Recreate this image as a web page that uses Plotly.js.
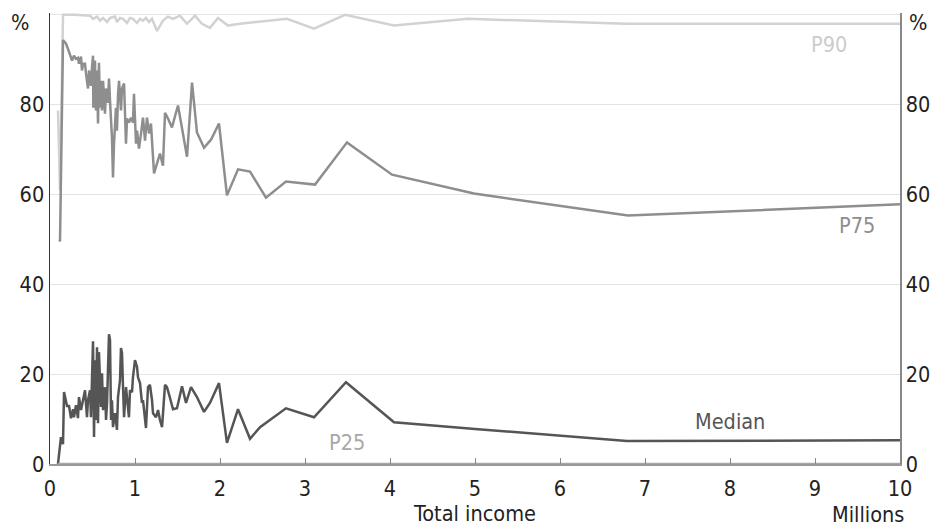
<!DOCTYPE html>
<html>
<head>
<meta charset="utf-8">
<script src="https://cdn.plot.ly/plotly-3.0.1.min.js"></script>
<style>html,body{margin:0;padding:0;background:#fff;}#chart{width:943px;height:526px;}</style>
</head>
<body>
<div id="chart"></div>
<script>
// Total income (millions) and share (%) per percentile series
const medianX = [0.094,0.129,0.153,0.165,0.2,0.224,0.247,0.271,0.282,0.306,0.329,0.341,0.365,0.388,0.412,0.435,0.447,0.471,0.482,0.506,0.518,0.529,0.541,0.553,0.565,0.576,0.6,0.612,0.624,0.647,0.659,0.671,0.694,0.706,0.718,0.729,0.741,0.765,0.788,0.8,0.824,0.835,0.847,0.859,0.871,0.894,0.906,0.929,0.941,0.965,0.976,1.0,1.024,1.035,1.059,1.082,1.094,1.129,1.153,1.176,1.2,1.212,1.247,1.271,1.294,1.318,1.353,1.376,1.412,1.447,1.494,1.553,1.6,1.659,1.729,1.812,1.882,1.988,2.082,2.212,2.353,2.471,2.776,3.106,3.482,4.047,5.0,6.788,10];
const medianY = [0,6.0,4.4,16.0,12.9,12.9,10.2,12.2,10.4,13.1,10.2,14.9,12.0,14.2,16.4,10.4,14.2,16.4,10.4,27.3,6.0,23.1,9.8,26.0,9.1,24.9,12.7,20.2,12.0,17.1,9.8,13.6,28.9,27.6,9.8,14.2,8.2,11.3,7.6,14.9,18.7,25.8,24.7,17.1,10.4,17.1,14.2,10.4,16.4,16.0,19.3,23.1,21.6,19.3,18.0,13.6,14.2,8.0,17.1,17.6,14.2,11.3,10.4,12.0,9.8,8.2,17.6,17.1,14.7,12.2,12.4,17.3,13.6,17.1,14.9,11.6,13.6,18.0,4.7,12.2,5.6,8.2,12.4,10.4,18.2,9.3,7.8,5.1,5.3];

const p75X = [0.106,0.118,0.153,0.188,0.212,0.247,0.259,0.282,0.306,0.329,0.341,0.365,0.376,0.388,0.412,0.424,0.447,0.459,0.482,0.494,0.506,0.51,0.529,0.541,0.553,0.565,0.576,0.588,0.6,0.612,0.624,0.647,0.659,0.682,0.694,0.706,0.729,0.741,0.753,0.776,0.788,0.8,0.812,0.835,0.847,0.871,0.894,0.906,0.929,0.953,0.976,0.988,1.012,1.024,1.047,1.071,1.094,1.118,1.141,1.165,1.188,1.2,1.224,1.259,1.294,1.329,1.353,1.388,1.435,1.482,1.506,1.612,1.671,1.729,1.812,1.894,1.988,2.082,2.212,2.353,2.541,2.776,3.118,3.494,4.024,4.988,6.8,10];
const p75Y = [49.6,49.8,94.4,93.6,92.4,90.4,89.8,90.9,90.2,90.4,89.1,90.7,87.6,89.1,89.1,86.9,83.6,87.6,84.2,88.2,90.9,79.3,89.8,78.7,87.6,75.8,89.3,79.3,85.3,78.7,85.3,78.0,83.6,80.4,85.8,80.9,72.7,63.8,71.3,79.3,74.2,82.0,85.3,78.7,83.6,84.7,71.3,76.9,76.0,77.1,76.0,82.4,71.3,74.2,70.2,73.6,77.1,72.0,77.1,73.6,75.8,72.0,64.7,66.9,69.1,66.4,78.2,76.9,74.9,78.2,79.8,68.4,84.9,73.8,70.4,72.2,75.8,59.8,65.6,65.1,59.3,62.9,62.2,71.6,64.4,60.2,55.3,57.8];

const p90X = [0.094,0.118,0.153,0.294,0.471,0.506,0.553,0.588,0.624,0.671,0.706,0.765,0.788,0.824,0.859,0.906,0.941,0.976,1.024,1.059,1.094,1.129,1.165,1.2,1.259,1.329,1.388,1.447,1.529,1.612,1.706,1.788,1.882,1.976,2.094,2.235,2.788,3.106,3.471,4.047,4.918,6.776,10];
const p90Y = [78.7,60.9,100,100,99.8,99.1,99.6,98.7,99.3,98.4,99.3,99.6,98.4,99.3,99.1,98.2,99.3,99.1,98.2,99.1,98.7,99.3,98.4,99.1,96.4,98.7,99.6,99.1,99.8,98.0,99.8,98.0,97.1,99.3,97.6,98.0,99.1,96.9,100,97.6,99.1,98.0,98.0];

const p25X = [0.094,0.5,1,2,3.5,5,6.8,10];
const p25Y = [0,0,0,0,0,0,0,0];

const xTicks = [0,1,2,3,4,5,6,7,8,9,10];
const yTicks = [0,20,40,60,80,100];
const yTickText = ['0','20','40','60','80',''];

const FONT = '"DejaVu Sans Condensed", "Liberation Sans Narrow", "Liberation Sans", Arial, sans-serif';

const traces = [
  {x: p25X, y: p25Y, yaxis: 'y2', mode: 'lines', line: {color: '#a8a8a8', width: 2.5}, hoverinfo: 'skip'},
  {x: p90X, y: p90Y, mode: 'lines', line: {color: '#d2d2d2', width: 2.5}},
  {x: p75X, y: p75Y, mode: 'lines', line: {color: '#8e8e8e', width: 2.5}},
  {x: medianX, y: medianY, mode: 'lines', line: {color: '#555555', width: 2.5}}
];

const axisFont = {family: FONT, size: 21.5, color: '#222'};

const layout = {
  width: 943, height: 526,
  margin: {l: 50, r: 43, t: 13, b: 62},
  paper_bgcolor: '#fff', plot_bgcolor: '#fff',
  showlegend: false,
  font: {family: FONT, size: 21.5, color: '#222'},
  xaxis: {
    range: [0, 10], tickvals: xTicks, ticktext: xTicks.map(String),
    ticks: 'inside', ticklen: 6, tickcolor: '#888', tickwidth: 1,
    showline: true, linecolor: '#999', linewidth: 2,
    showgrid: false, zeroline: false, tickfont: axisFont, ticklabelstandoff: 4,
    title: {text: 'Total income', font: axisFont, standoff: 3}
  },
  yaxis: {
    range: [0, 100.4], tickvals: yTicks, ticktext: yTickText,
    ticks: '', showline: true, linecolor: '#333', linewidth: 1.5,
    showgrid: true, gridcolor: '#e3e3e3', gridwidth: 1, zeroline: false,
    tickfont: axisFont
  },
  yaxis2: {
    range: [0, 100.4], tickvals: yTicks, ticktext: yTickText,
    overlaying: 'y', side: 'right', ticks: '',
    showline: true, linecolor: '#888', linewidth: 1.5,
    showgrid: false, zeroline: false, tickfont: axisFont
  },
  annotations: [
    {xref: 'paper', yref: 'paper', x: -0.0353, y: 0.98, text: '%', showarrow: false, font: axisFont, xanchor: 'center', yanchor: 'middle'},
    {xref: 'paper', yref: 'paper', x: 1.0212, y: 0.98, text: '%', showarrow: false, font: axisFont, xanchor: 'center', yanchor: 'middle'},
    {xref: 'paper', yref: 'paper', x: 0.962, y: -0.141, text: 'Millions', showarrow: false, font: axisFont, xanchor: 'center', yanchor: 'bottom', borderpad: 0},
    {xref: 'paper', yref: 'paper', x: 0.9165, y: 0.931, text: 'P90', showarrow: false, font: {family: FONT, size: 21.5, color: '#cccccc'}, xanchor: 'center', yanchor: 'middle'},
    {xref: 'paper', yref: 'paper', x: 0.949, y: 0.528, text: 'P75', showarrow: false, font: {family: FONT, size: 21.5, color: '#8e8e8e'}, xanchor: 'center', yanchor: 'middle'},
    {xref: 'paper', yref: 'paper', x: 0.8, y: 0.0953, text: 'Median', showarrow: false, font: {family: FONT, size: 21.5, color: '#555555'}, xanchor: 'center', yanchor: 'middle'},
    {xref: 'paper', yref: 'paper', x: 0.349, y: 0.0466, text: 'P25', showarrow: false, font: {family: FONT, size: 21.5, color: '#a8a8a8'}, xanchor: 'center', yanchor: 'middle'}
  ]
};

Plotly.newPlot('chart', traces, layout, {staticPlot: true, displayModeBar: false});
</script>
</body>
</html>
